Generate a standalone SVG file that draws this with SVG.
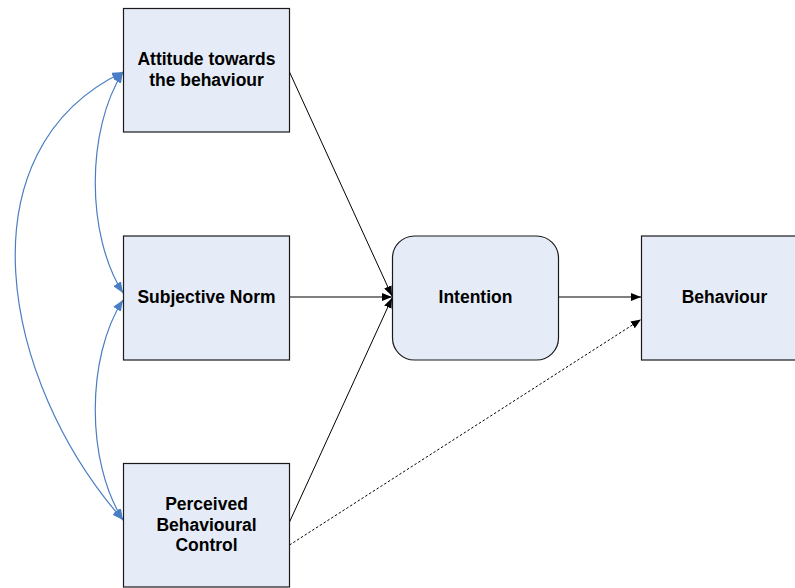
<svg xmlns="http://www.w3.org/2000/svg" width="795" height="588" viewBox="0 0 795 588">
<style>
.box{fill:#E6ECF7;stroke:#1a1a1a;stroke-width:1.2}
.lbl{font-family:"Liberation Sans",Arial,sans-serif;font-weight:bold;font-size:17.5px;fill:#000;text-anchor:middle}
.blk{fill:none;stroke:#000;stroke-width:1}
.dash{fill:none;stroke:#000;stroke-width:1;stroke-dasharray:2.5,2}
.blue{fill:none;stroke:#4A7EC4;stroke-width:1.2}
</style>
<defs>
<marker id="ah" viewBox="0 0 10 8" refX="10" refY="4" markerWidth="10" markerHeight="8" markerUnits="userSpaceOnUse" orient="auto">
<path d="M0,0 L10,4 L0,8 Z" fill="#000"/>
</marker>
<marker id="bh" viewBox="0 0 11 9" refX="11" refY="4.5" markerWidth="11" markerHeight="9" markerUnits="userSpaceOnUse" orient="auto-start-reverse">
<path d="M0,0 L11,4.5 L0,9 Z" fill="#4A7EC4"/>
</marker>
</defs>
<g id="connectors">
<line class="blk" x1="289.5" y1="72" x2="392" y2="296" marker-end="url(#ah)"/>
<line class="blk" x1="289.5" y1="297" x2="392" y2="297" marker-end="url(#ah)"/>
<line class="blk" x1="289.5" y1="522" x2="392" y2="298" marker-end="url(#ah)"/>
<line class="blk" x1="558.5" y1="297" x2="641" y2="297" marker-end="url(#ah)"/>
<line class="dash" x1="289.5" y1="545" x2="641" y2="319.5" marker-end="url(#ah)"/>
<path class="blue" d="M123,72 C-40,150 0,380 123,520" marker-start="url(#bh)" marker-end="url(#bh)"/>
<path class="blue" d="M123,72 C86,130 86,235 123,293" marker-start="url(#bh)" marker-end="url(#bh)"/>
<path class="blue" d="M123,300 C86,357 86,462 123,520" marker-start="url(#bh)" marker-end="url(#bh)"/>
</g>
<g id="attitude">
<rect class="box" x="123.5" y="8.5" width="166" height="123.5"/>
<text class="lbl" x="206.5" y="65">Attitude towards</text>
<text class="lbl" x="206.5" y="86">the behaviour</text>
</g>
<g id="subjective-norm">
<rect class="box" x="123.5" y="236" width="166" height="124"/>
<text class="lbl" x="206.5" y="303">Subjective Norm</text>
</g>
<g id="pbc">
<rect class="box" x="123.5" y="463.5" width="166" height="123.5"/>
<text class="lbl" x="206.5" y="510">Perceived</text>
<text class="lbl" x="206.5" y="530.5">Behavioural</text>
<text class="lbl" x="206.5" y="551">Control</text>
</g>
<g id="intention">
<rect class="box" x="392.5" y="236" width="166" height="124" rx="22" ry="22"/>
<text class="lbl" x="475.5" y="303">Intention</text>
</g>
<g id="behaviour">
<rect class="box" x="641.5" y="236" width="166" height="124"/>
<text class="lbl" x="724.5" y="303">Behaviour</text>
</g>
</svg>
